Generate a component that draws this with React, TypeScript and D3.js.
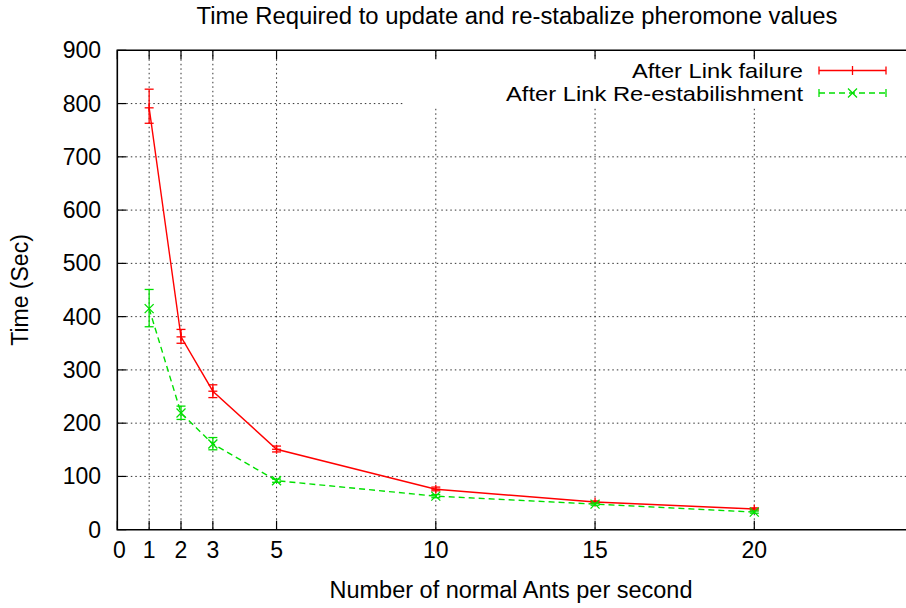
import React from "react";
import * as d3 from "d3";

// Ants-per-second settings on the x axis
const antsPerSecond = [1, 2, 3, 5, 10, 15, 20];

// Time (s) after a link failure, with error range
const failureTime = [792, 362, 260, 151, 76, 52, 39];
const failureLow = [763, 350, 248, 146, 73, 50, 37];
const failureHigh = [827, 376, 272, 157, 80, 54, 41];

// Time (s) after the link is re-established, with error range
const reestTime = [415, 219, 161, 92, 63, 48, 33];
const reestLow = [381, 207, 150, 89, 60, 46, 31];
const reestHigh = [451, 232, 173, 95, 66, 50, 35];

const xTicks = [0, 1, 2, 3, 5, 10, 15, 20];
const yTicks = [0, 100, 200, 300, 400, 500, 600, 700, 800, 900];

const W = 906;
const H = 608;
const left = 117.3;
const top = 50.3;
const bottom = 529.7;
const unit = 31.85;

const FONT = "'Liberation Sans', Arial, Helvetica, sans-serif";
const RED = "#ff0000";
const GREEN = "#00e000";

export default function App() {
  const x = d3.scaleLinear().domain([0, 25]).range([left, left + 25 * unit]);
  const y = d3.scaleLinear().domain([0, 900]).range([bottom, top]);

  const line = d3
    .line<number>()
    .x((_, i) => x(antsPerSecond[i]))
    .y((v) => y(v));

  const cap = 4.5;
  const mk = 4.5;
  const tickLen = 9;

  const errorBars = (vals: number[], lo: number[], hi: number[], color: string, marker: "plus" | "cross") =>
    vals.map((v, i) => {
      const cx = x(antsPerSecond[i]);
      const cy = y(v);
      const yl = y(lo[i]);
      const yh = y(hi[i]);
      return (
        <g key={i} stroke={color} strokeWidth={1.3} fill="none">
          <line x1={cx} x2={cx} y1={yl} y2={yh} />
          <line x1={cx - cap} x2={cx + cap} y1={yl} y2={yl} />
          <line x1={cx - cap} x2={cx + cap} y1={yh} y2={yh} />
          {marker === "plus" ? (
            <>
              <line x1={cx - mk} x2={cx + mk} y1={cy} y2={cy} />
              <line x1={cx} x2={cx} y1={cy - mk} y2={cy + mk} />
            </>
          ) : (
            <>
              <line x1={cx - mk} x2={cx + mk} y1={cy - mk} y2={cy + mk} />
              <line x1={cx - mk} x2={cx + mk} y1={cy + mk} y2={cy - mk} />
            </>
          )}
        </g>
      );
    });

  // legend sample geometry
  const lgX1 = 819;
  const lgX2 = 886;
  const lgXm = (lgX1 + lgX2) / 2;
  const row1 = 70.5;
  const row2 = 93;

  return (
    <svg
      width={W}
      height={H}
      style={{ position: "absolute", left: 0, top: 0, background: "#fff" }}
      fontFamily={FONT}
    >
      <rect x={0} y={0} width={W} height={H} fill="#fff" />

      {/* grid */}
      <g stroke="#000" strokeWidth={1} strokeDasharray="1.5,3" opacity={0.8}>
        {yTicks
          .filter((t) => t > 0 && t < 900)
          .map((t) => (
            <line key={"gy" + t} x1={left} x2={W} y1={y(t)} y2={y(t)} />
          ))}
        {xTicks
          .filter((t) => t > 0)
          .map((t) => (
            <line key={"gx" + t} x1={x(t)} x2={x(t)} y1={top} y2={bottom} />
          ))}
      </g>

      {/* key box blanks the grid behind it */}
      <rect x={404} y={57} width={W - 404} height={51} fill="#fff" />

      {/* ticks */}
      <g stroke="#000" strokeWidth={1.2}>
        {yTicks.map((t) => (
          <line key={"ty" + t} x1={left} x2={left + tickLen} y1={y(t)} y2={y(t)} />
        ))}
        {xTicks.map((t) => (
          <g key={"tx" + t}>
            <line x1={x(t)} x2={x(t)} y1={bottom} y2={bottom - tickLen} />
            <line x1={x(t)} x2={x(t)} y1={top} y2={top + tickLen} />
          </g>
        ))}
      </g>

      {/* border */}
      <path
        d={`M${W},${top}H${left}V${bottom}H${W}`}
        fill="none"
        stroke="#000"
        strokeWidth={1.6}
      />

      {/* tick labels */}
      <g fontSize={23} fill="#000">
        {yTicks.map((t) => (
          <text key={"ly" + t} x={101} y={y(t) + 8} textAnchor="end">
            {t}
          </text>
        ))}
        {xTicks.map((t) => (
          <text key={"lx" + t} x={x(t) + (t === 0 ? 2 : 0)} y={558} textAnchor="middle">
            {t}
          </text>
        ))}
      </g>

      {/* series lines */}
      <path d={line(failureTime) || ""} fill="none" stroke={RED} strokeWidth={1.4} />
      <path
        d={line(reestTime) || ""}
        fill="none"
        stroke={GREEN}
        strokeWidth={1.4}
        strokeDasharray="6,4"
      />
      {errorBars(failureTime, failureLow, failureHigh, RED, "plus")}
      {errorBars(reestTime, reestLow, reestHigh, GREEN, "cross")}

      {/* legend */}
      <g fontSize={21} fill="#000" textAnchor="end">
        <text x={803} y={row1 + 7.5} textLength={171} lengthAdjust="spacingAndGlyphs">
          After Link failure
        </text>
        <text x={803} y={row2 + 7.5} textLength={297} lengthAdjust="spacingAndGlyphs">
          After Link Re-estabilishment
        </text>
      </g>
      <g stroke={RED} strokeWidth={1.3}>
        <line x1={lgX1} x2={lgX2} y1={row1} y2={row1} />
        <line x1={lgX1} x2={lgX1} y1={row1 - 4} y2={row1 + 4} />
        <line x1={lgX2} x2={lgX2} y1={row1 - 4} y2={row1 + 4} />
        <line x1={lgXm} x2={lgXm} y1={row1 - mk} y2={row1 + mk} />
      </g>
      <g stroke={GREEN} strokeWidth={1.3}>
        <line x1={lgX1} x2={lgX2} y1={row2} y2={row2} strokeDasharray="6,4" />
        <line x1={lgX1} x2={lgX1} y1={row2 - 4} y2={row2 + 4} />
        <line x1={lgX2} x2={lgX2} y1={row2 - 4} y2={row2 + 4} />
        <line x1={lgXm - mk} x2={lgXm + mk} y1={row2 - mk} y2={row2 + mk} />
        <line x1={lgXm - mk} x2={lgXm + mk} y1={row2 + mk} y2={row2 - mk} />
      </g>

      {/* titles */}
      <text
        x={517}
        y={24}
        fontSize={23}
        textAnchor="middle"
        fill="#000"
        textLength={641}
        lengthAdjust="spacingAndGlyphs"
      >
        Time Required to update and re-stabalize pheromone values
      </text>
      <text
        x={511}
        y={598}
        fontSize={23}
        textAnchor="middle"
        fill="#000"
        textLength={363}
        lengthAdjust="spacingAndGlyphs"
      >
        Number of normal Ants per second
      </text>
      <text
        transform="translate(28,290) rotate(-90)"
        fontSize={23}
        textAnchor="middle"
        fill="#000"
      >
        Time (Sec)
      </text>
    </svg>
  );
}
